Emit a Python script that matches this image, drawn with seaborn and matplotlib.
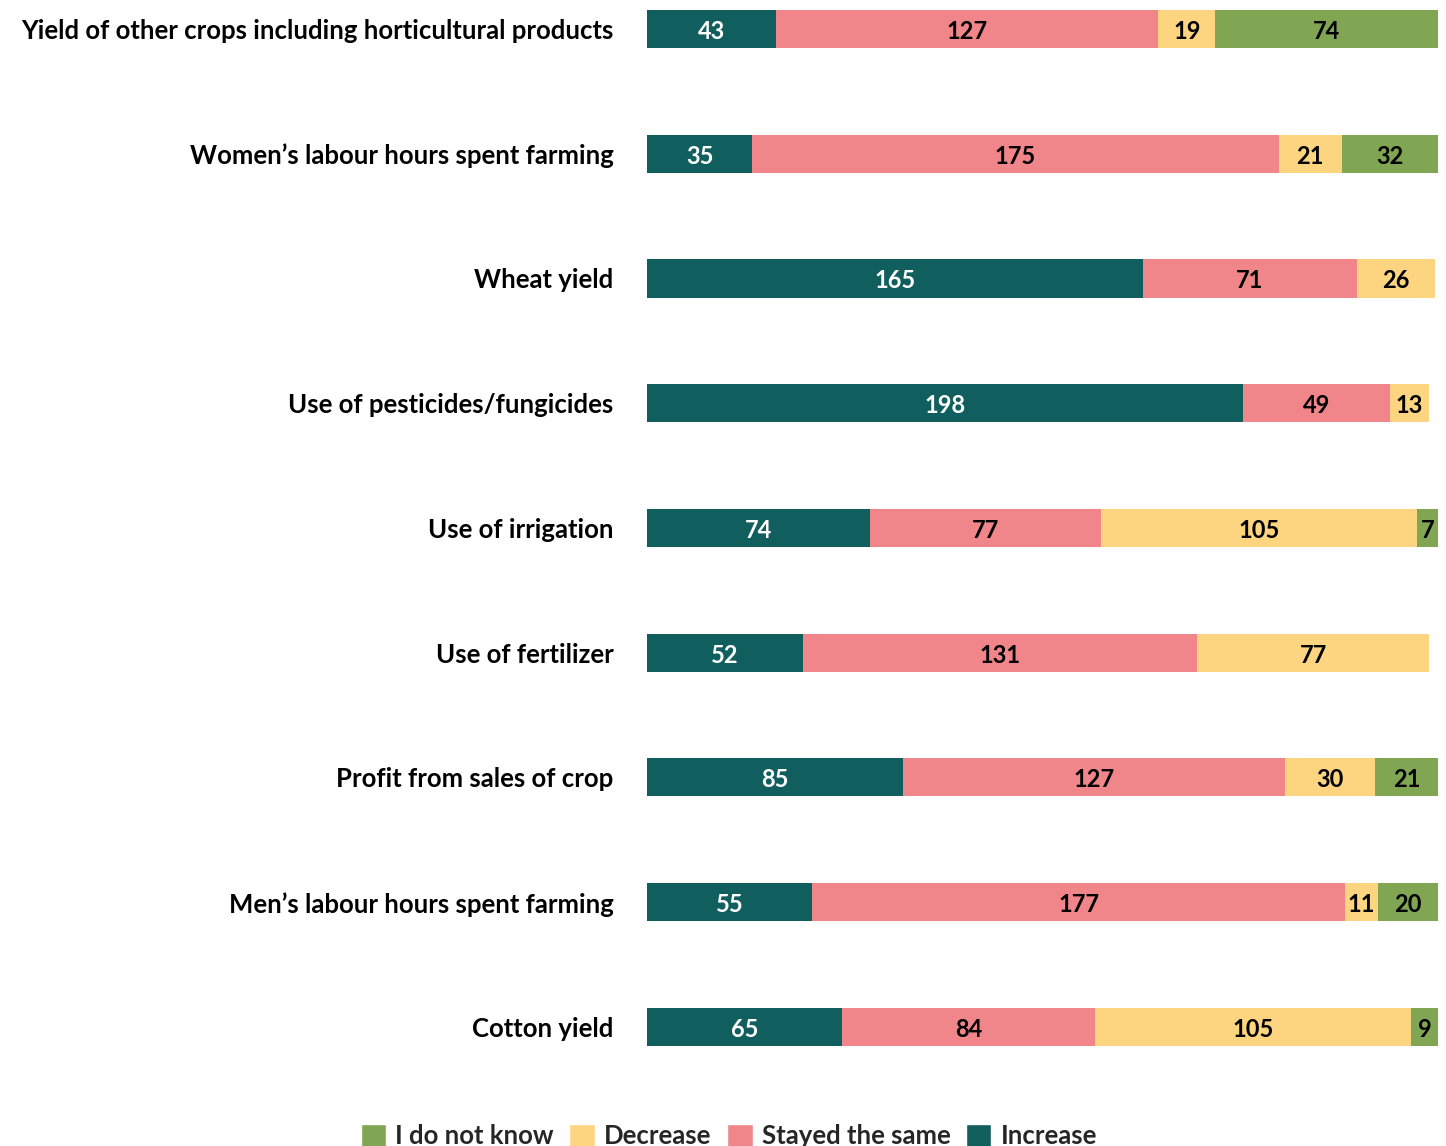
import matplotlib
matplotlib.use("Agg")
import matplotlib.pyplot as plt
import seaborn as sns
import pandas as pd
import numpy as np
from matplotlib.patches import Patch

categories = [
    "Yield of other crops including horticultural products",
    "Women’s labour hours spent farming",
    "Wheat yield",
    "Use of pesticides/fungicides",
    "Use of irrigation",
    "Use of fertilizer",
    "Profit from sales of crop",
    "Men’s labour hours spent farming",
    "Cotton yield",
]
increase = [43, 35, 165, 198, 74, 52, 85, 55, 65]
stayed_same = [127, 175, 71, 49, 77, 131, 127, 177, 84]
decrease = [19, 21, 26, 13, 105, 77, 30, 11, 105]
dont_know = [74, 32, 0, 0, 7, 0, 21, 20, 9]

series_names = ["Increase", "Stayed the same", "Decrease", "I do not know"]
series_values = [increase, stayed_same, decrease, dont_know]
colors = ["#115E5E", "#F0868A", "#FDD581", "#80A553"]
text_colors = ["white", "black", "black", "black"]

sns.set_theme(style="white")
plt.rcParams["font.family"] = ["Lato", "DejaVu Sans"]
plt.rcParams["font.weight"] = "bold"

fig = plt.figure(figsize=(14.46, 11.46), dpi=100)
ax = fig.add_axes([647 / 1446, 1 - 1060 / 1146, (1438 - 647) / 1446, 1060 / 1146])

vals = np.array(series_values, dtype=float)
cum = np.cumsum(vals, axis=0)

# Stacked bars: draw cumulative totals from the outermost segment inwards
for i in range(len(series_names) - 1, -1, -1):
    df = pd.DataFrame({"category": categories, "value": cum[i]})
    sns.barplot(data=df, x="value", y="category", orient="h", color=colors[i],
                saturation=1, width=0.305, ax=ax, order=categories,
                linewidth=0, edgecolor="none")

# Value labels at the centre of each segment
for i in range(len(series_names)):
    starts = cum[i] - vals[i]
    for j, v in enumerate(vals[i]):
        if v <= 0:
            continue
        ax.text(starts[j] + v / 2, j + 0.02, f"{int(v)}", ha="center", va="center",
                color=text_colors[i], fontsize=17, fontweight="bold")

ax.set_xlim(0, 263)
ax.set_ylim(8.265, -0.2325)
ax.set_xlabel("")
ax.set_ylabel("")
ax.set_xticks([])
ax.tick_params(axis="y", length=0, pad=24, labelsize=18.5)
for lab in ax.get_yticklabels():
    lab.set_fontweight("bold")
    lab.set_color("black")
sns.despine(ax=ax, left=True, bottom=True)

handles = [Patch(facecolor=colors[i], label=series_names[i]) for i in range(3, -1, -1)]
fig.legend(handles=handles, loc="center", bbox_to_anchor=(0.504, 0.0085), ncol=4,
           frameon=False, fontsize=18.5, handlelength=1.0, handleheight=1.0,
           handletextpad=0.35, columnspacing=0.6, borderaxespad=0)

fig.savefig("out.png", dpi=100)
